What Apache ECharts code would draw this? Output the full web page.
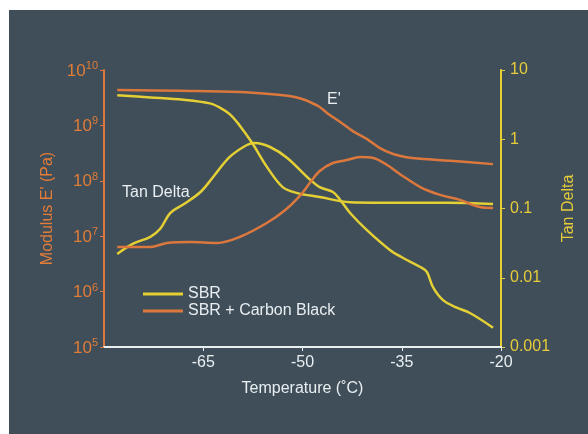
<!DOCTYPE html>
<html>
<head>
<meta charset="utf-8">
<script src="https://cdn.jsdelivr.net/npm/echarts@6/dist/echarts.min.js"></script>
<style>
html,body{margin:0;padding:0;background:#ffffff;}
#c{width:588px;height:434px;}
</style>
</head>
<body>
<div id="c"></div>
<script>
// ---- data ----
const xTicks = [-65, -50, -35, -20];
const modulusTickExponents = [5, 6, 7, 8, 9, 10];
const tanTickLabels = ['0.001', '0.01', '0.1', '1', '10'];

// SBR (yellow) – modulus E'
const sbrModTemp = [-78, -73, -68, -64, -62.5, -61, -59.5, -57.6, -55.4, -53, -50.8, -47.4, -42.8, -35, -28, -21.2];
const sbrModVal  = [3.5e9, 3.2e9, 2.9e9, 2.5e9, 2.1e9, 1.6e9, 1.0e9, 4.8e8, 1.8e8, 7.7e7, 6.0e7, 5.1e7, 4.1e7, 4.0e7, 4.0e7, 3.8e7];

// SBR + Carbon Black (orange) – modulus E'
const cbModTemp = [-78, -68.5, -59.5, -55, -52, -50.4, -48.9, -47.4, -46.3, -44.3, -42.4, -40.3, -38.3, -36.3, -34.5, -32.2, -27.7, -21.2];
const cbModVal  = [4.35e9, 4.2e9, 4.0e9, 3.7e9, 3.4e9, 3.1e9, 2.65e9, 2.15e9, 1.68e9, 1.15e9, 7.9e8, 5.7e8, 3.9e8, 3.05e8, 2.7e8, 2.5e8, 2.3e8, 2.0e8];

// SBR (yellow) – tan delta
const sbrTanTemp = [-78, -75.6, -73, -71.5, -70, -68.1, -65.5, -63.5, -61, -58.4, -57.2, -54.9, -52.3, -49.3, -47.4, -45.4, -44.3, -42.8, -40.3, -36.8, -34.8, -32.2, -31.2, -30.3, -28.8, -26.7, -24.7, -21.2];
const sbrTanVal  = [0.022, 0.031, 0.039, 0.051, 0.086, 0.113, 0.17, 0.285, 0.555, 0.826, 0.883, 0.773, 0.536, 0.285, 0.204, 0.173, 0.133, 0.086, 0.049, 0.0252, 0.0193, 0.0143, 0.0121, 0.0074, 0.0048, 0.0037, 0.0031, 0.0019];

// SBR + Carbon Black (orange) – tan delta
const cbTanTemp = [-78, -73, -70.5, -67, -62.9, -59.5, -55.4, -52.6, -50.4, -48.9, -47.4, -45.4, -43.3, -41.3, -39.3, -37.2, -35.3, -32.2, -29.2, -26.2, -23.2, -21.2];
const cbTanVal  = [0.0278, 0.0278, 0.0318, 0.0328, 0.0318, 0.0388, 0.0618, 0.095, 0.152, 0.233, 0.348, 0.454, 0.501, 0.555, 0.536, 0.425, 0.315, 0.204, 0.157, 0.133, 0.105, 0.102];

// ---- style ----
const BG = '#3f4e59';
const ORANGE = '#dc783d';
const ORANGE_TXT = '#e27c38';
const YELLOW = '#e4cf35';
const YELLOW_TXT = '#e6cb3a';
const WHITE = '#e9eef1';
const FONT = '"Liberation Sans", Arial, sans-serif';

function pairs(t, v){ return t.map((x,i)=>[x, v[i]]); }

const chart = echarts.init(document.getElementById('c'), null, {renderer:'canvas'});
chart.setOption({
  backgroundColor: '#ffffff',
  animation: false,
  textStyle: {fontFamily: FONT},
  graphic: [
    {type:'rect', z:-100, silent:true, shape:{x:9, y:10, width:579, height:424}, style:{fill:BG}},
    {type:'text', left:122, top:185, z:10, style:{text:'Tan Delta', fill:WHITE, font:'16px ' + FONT}},
    {type:'text', left:327, top:92, z:10, style:{text:"E'", fill:WHITE, font:'16px ' + FONT}}
  ],
  grid: {left:104, right:87, top:70, bottom:87},
  legend: {
    orient:'vertical', left:138, top:281, itemWidth:40, itemHeight:3, itemGap:1, itemTextGap:5,
    icon:'rect',
    data:['SBR','SBR + Carbon Black'],
    textStyle:{color:WHITE, fontSize:16, fontFamily:FONT, lineHeight:16}
  },
  xAxis: {
    type:'value', min:-80, max:-20,
    name:'Temperature (˚C)', nameLocation:'middle', nameGap:34,
    nameTextStyle:{color:WHITE, fontSize:16, fontFamily:FONT},
    axisLine:{lineStyle:{color:WHITE, width:2}},
    axisTick:{show:true, length:4, customValues: xTicks, lineStyle:{color:WHITE}},
    axisLabel:{color:WHITE, fontSize:16, margin:8, customValues: xTicks},
    splitLine:{show:false}
  },
  yAxis: [
    {
      type:'log', logBase:10, min:1e5, max:1e10, position:'left',
      name:"Modulus E' (Pa)", nameLocation:'middle', nameRotate:90, nameGap:45,
      nameTextStyle:{color:ORANGE_TXT, fontSize:16, fontFamily:FONT},
      axisLine:{show:true, lineStyle:{color:ORANGE, width:2}},
      axisTick:{show:true, length:4, lineStyle:{color:ORANGE}},
      axisLabel:{
        margin:6,
        formatter: function(v){
          const e = Math.round(Math.log10(v));
          if (modulusTickExponents.indexOf(e) < 0) return '';
          return '{b|10}{s|' + e + '}';
        },
        rich:{
          b:{color:ORANGE_TXT, fontSize:17, fontFamily:FONT, verticalAlign:'bottom'},
          s:{color:ORANGE_TXT, fontSize:11, fontFamily:FONT, verticalAlign:'bottom', padding:[0,0,8,0]}
        }
      },
      splitLine:{show:false}
    },
    {
      type:'log', logBase:10, min:0.001, max:10, position:'right',
      name:'Tan Delta', nameLocation:'middle', nameRotate:90, nameGap:38,
      nameTextStyle:{color:YELLOW_TXT, fontSize:16, fontFamily:FONT},
      axisLine:{show:true, lineStyle:{color:YELLOW, width:2}},
      axisTick:{show:true, length:4, lineStyle:{color:YELLOW}},
      axisLabel:{
        color:YELLOW_TXT, fontSize:16, margin:9,
        formatter: function(v){
          const e = Math.round(Math.log10(v));
          return tanTickLabels[e + 3] || '';
        }
      },
      splitLine:{show:false}
    }
  ],
  series: [
    {name:'SBR', type:'line', yAxisIndex:0, symbol:'none', smooth:0.35, data:pairs(sbrModTemp, sbrModVal),
     lineStyle:{color:YELLOW, width:2.5}, itemStyle:{color:YELLOW}},
    {name:'SBR', type:'line', yAxisIndex:1, symbol:'none', smooth:0.35, data:pairs(sbrTanTemp, sbrTanVal),
     lineStyle:{color:YELLOW, width:2.5}, itemStyle:{color:YELLOW}},
    {name:'SBR + Carbon Black', type:'line', yAxisIndex:0, symbol:'none', smooth:0.35, data:pairs(cbModTemp, cbModVal),
     lineStyle:{color:ORANGE, width:2.5}, itemStyle:{color:ORANGE}},
    {name:'SBR + Carbon Black', type:'line', yAxisIndex:1, symbol:'none', smooth:0.35, data:pairs(cbTanTemp, cbTanVal),
     lineStyle:{color:ORANGE, width:2.5}, itemStyle:{color:ORANGE}}
  ]
});
</script>
</body>
</html>
